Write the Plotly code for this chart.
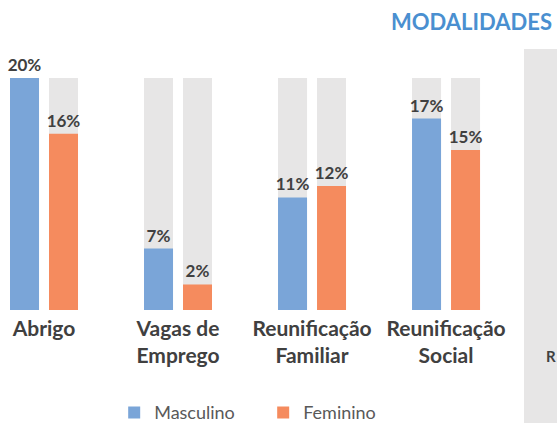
import plotly.graph_objects as go

categories = ["Abrigo", "Vagas de<br>Emprego", "Reunificação<br>Familiar", "Reunificação<br>Social"]
masculino = [20.0, 5.3, 9.7, 16.5]
feminino = [15.2, 2.2, 10.7, 13.8]
masculino_labels = ["20%", "7%", "11%", "17%"]
feminino_labels = ["16%", "2%", "12%", "15%"]
full_scale = [20, 20, 20, 20]

BLUE = "#7AA5D8"
ORANGE = "#F58B5E"
GREY = "#E7E6E6"
TXT = "#404040"
FONT = "Lato"

fig = go.Figure()
fig.add_trace(go.Bar(x=categories, y=full_scale, offsetgroup="m", marker_color=GREY,
                     marker_line_width=0, showlegend=False, hoverinfo="skip"))
fig.add_trace(go.Bar(x=categories, y=full_scale, offsetgroup="f", marker_color=GREY,
                     marker_line_width=0, showlegend=False, hoverinfo="skip"))
fig.add_trace(go.Bar(x=categories, y=masculino, name="Masculino", offsetgroup="m",
                     marker_color=BLUE, marker_line_width=0,
                     text=masculino_labels, textposition="outside", cliponaxis=False,
                     constraintext="none",
                     textfont=dict(family=FONT, size=17, color=TXT, weight="bold")))
fig.add_trace(go.Bar(x=categories, y=feminino, name="Feminino", offsetgroup="f",
                     marker_color=ORANGE, marker_line_width=0,
                     text=feminino_labels, textposition="outside", cliponaxis=False,
                     constraintext="none",
                     textfont=dict(family=FONT, size=17, color=TXT, weight="bold")))

fig.update_layout(
    width=557, height=423,
    margin=dict(l=0, r=0, t=78, b=113, autoexpand=False),
    paper_bgcolor="white", plot_bgcolor="white",
    barmode="group", bargap=0.418, bargroupgap=0.256,
    font=dict(family=FONT, color=TXT),
    xaxis=dict(range=[-0.3284, 3.828], showgrid=False, zeroline=False, showline=False,
               ticks="", ticklabelstandoff=4, automargin=False,
               tickfont=dict(family=FONT, size=21, color=TXT, weight="bold")),
    yaxis=dict(range=[0, 20], visible=False, showgrid=False, zeroline=False, automargin=False),
    legend=dict(orientation="h", x=0.205, xanchor="left", y=-0.363, yanchor="top",
                font=dict(family=FONT, size=18, color="#595959"),
                traceorder="normal", itemwidth=30, entrywidth=104),
    shapes=[dict(type="rect", xref="paper", yref="paper", x0=524/557, x1=1.0,
                 y0=-0.49, y1=1.125, fillcolor=GREY, line_width=0, layer="below")],
    annotations=[
        dict(text="MODALIDADES", xref="paper", yref="paper", x=554/557, y=(310-22)/232,
             xanchor="right", yanchor="middle", showarrow=False,
             font=dict(family=FONT, size=22, color="#4A8FD0", weight="bold")),
        dict(text="R", xref="paper", yref="paper", x=544/557, y=(310-356)/232,
             xanchor="left", yanchor="middle", showarrow=False,
             font=dict(family=FONT, size=15, color=TXT, weight="bold")),
    ],
)
fig.write_html("out.html")
